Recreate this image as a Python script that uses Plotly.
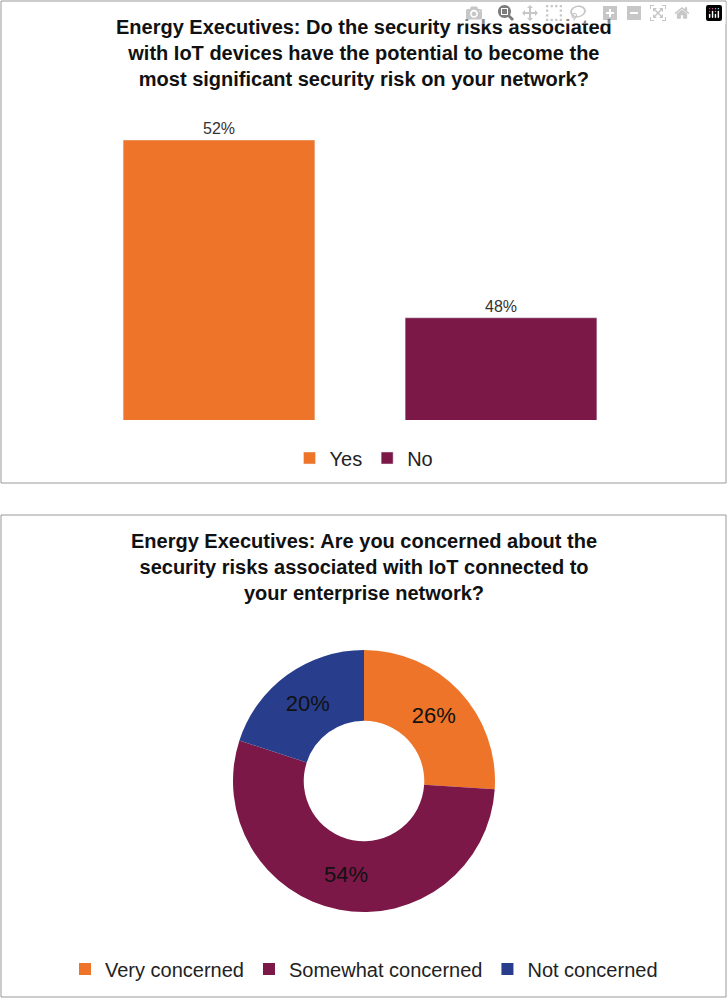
import plotly.graph_objects as go

bar_cats = ["Yes", "No"]
bar_vals = [52, 48]
bar_colors = ["#ED7428", "#7B1848"]
pie_labels = ["Very concerned", "Somewhat concerned", "Not concerned"]
pie_vals = [26, 54, 20]
pie_colors = ["#ED7428", "#7B1848", "#283D8C"]

W, H = 728, 999
def py(p): return 1 - p / H

fig = go.Figure()
for c, v, col in zip(bar_cats, bar_vals, bar_colors):
    fig.add_trace(go.Bar(x=[c], y=[v], name=c, marker_color=col,
                         text=[f"{v}%"], textposition="outside",
                         textfont=dict(size=16, color="#333"), cliponaxis=False))
fig.add_trace(go.Pie(labels=pie_labels, values=pie_vals, hole=0.46, sort=False,
                     direction="clockwise", rotation=0,
                     marker=dict(colors=pie_colors, line=dict(color="white", width=0)),
                     texttemplate="%{percent:.0%}", textposition="inside",
                     insidetextfont=dict(size=22, color="#111"),
                     domain=dict(x=[233/W, 495/W], y=[py(912), py(650)]),
                     legend="legend2"))

fig.update_layout(
    width=W, height=H, margin=dict(l=0, r=0, t=0, b=0),
    paper_bgcolor="white", plot_bgcolor="white",
    font=dict(family="Liberation Sans, Arial", color="#222"),
    barmode="overlay", bargap=0.32,
    xaxis=dict(domain=[78/W, 642/W], showticklabels=False, showgrid=False,
               zeroline=False, showline=False),
    yaxis=dict(domain=[py(420), py(120)], range=[45.7, 52.45], visible=False),
    legend=dict(orientation="h", x=0.5, xanchor="center", y=py(458), yanchor="middle",
                font=dict(size=20), itemwidth=30),
    legend2=dict(orientation="h", x=0.5, xanchor="center", y=py(969), yanchor="middle",
                 font=dict(size=20), itemwidth=30),
    shapes=[
        dict(type="rect", xref="paper", yref="paper", x0=1/W, x1=726/W, y0=py(483), y1=py(1),
             line=dict(color="#999", width=1)),
        dict(type="rect", xref="paper", yref="paper", x0=1/W, x1=726/W, y0=py(997), y1=py(515),
             line=dict(color="#999", width=1)),
    ],
    annotations=[
        dict(text="<b>Energy Executives: Do the security risks associated<br>with IoT devices have the potential to become the<br>most significant security risk on your network?</b>",
             x=0.5, y=py(14), xref="paper", yref="paper", yanchor="top", showarrow=False,
             font=dict(size=20, color="#111")),
        dict(text="<b>Energy Executives: Are you concerned about the<br>security risks associated with IoT connected to<br>your enterprise network?</b>",
             x=0.5, y=py(528), xref="paper", yref="paper", yanchor="top", showarrow=False,
             font=dict(size=20, color="#111")),
    ],
)
fig.write_html("out.html",
               post_script="document.body.style.margin='0';document.body.style.overflow='hidden';")
